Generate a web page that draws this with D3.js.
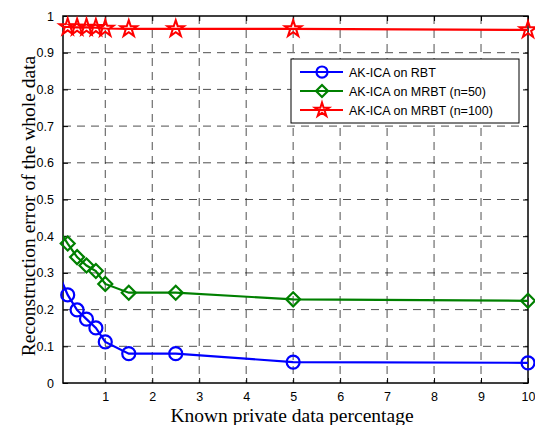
<!DOCTYPE html>
<html>
<head>
<meta charset="utf-8">
<script src="https://d3js.org/d3.v7.min.js"></script>
<style>
  body { margin: 0; background: #fff; }
  svg { display: block; }
</style>
</head>
<body>
<svg id="chart" width="535" height="425"></svg>
<script>
// known private data percentage
const xValues = [0, 0.2, 0.4, 0.6, 0.8, 1, 1.5, 2.5, 5, 10];
const rbt = [0.30, 0.24, 0.199, 0.174, 0.15, 0.112, 0.08, 0.08, 0.057, 0.055];
const mrbt50 = [0.42, 0.38, 0.343, 0.32, 0.305, 0.27, 0.246, 0.246, 0.228, 0.224];
const mrbt100 = [0.97, 0.97, 0.969, 0.969, 0.968, 0.966, 0.965, 0.965, 0.965, 0.962];
const xTicks = [1, 2, 3, 4, 5, 6, 7, 8, 9, 10];
const yTicks = [0, 0.1, 0.2, 0.3, 0.4, 0.5, 0.6, 0.7, 0.8, 0.9, 1];

const series = [
    {name: "AK-ICA on RBT", values: rbt, color: "#0000ff", marker: "circle"},
    {name: "AK-ICA on MRBT (n=50)", values: mrbt50, color: "#008000", marker: "diamond"},
    {name: "AK-ICA on MRBT (n=100)", values: mrbt100, color: "#ff0000", marker: "star"}
];

const margin = {top: 16, right: 7, bottom: 42, left: 63};
const width = 535 - margin.left - margin.right;
const height = 425 - margin.top - margin.bottom;

const svg = d3.select("#chart");
const g = svg.append("g")
    .attr("transform", "translate(" + margin.left + "," + margin.top + ")");

const xScale = d3.scaleLinear().domain([0.1, 10]).range([0, width]);
const yScale = d3.scaleLinear().domain([0, 1]).range([height, 0]);

// grid
g.selectAll(".gx")
    .data(xTicks.filter(d => d < 10))
    .enter()
    .append("line")
        .attr("x1", d => xScale(d)).attr("x2", d => xScale(d))
        .attr("y1", 0).attr("y2", height)
        .attr("stroke", "#222").attr("stroke-width", 0.8)
        .attr("stroke-dasharray", "8,6");

g.selectAll(".gy")
    .data(yTicks.filter(d => d > 0 && d < 1))
    .enter()
    .append("line")
        .attr("x1", 0).attr("x2", width)
        .attr("y1", d => yScale(d)).attr("y2", d => yScale(d))
        .attr("stroke", "#222").attr("stroke-width", 0.8)
        .attr("stroke-dasharray", "8,6");

// axes, ticks pointing inward, mirrored on top and right
const fontAxis = "Arial, 'Liberation Sans', sans-serif";
const fmt = d3.format("~g");

g.append("g")
    .attr("transform", "translate(0," + height + ")")
    .call(d3.axisBottom(xScale).tickValues(xTicks).tickSizeInner(-5).tickSizeOuter(0).tickPadding(9).tickFormat(fmt))
    .call(a => a.select(".domain").remove())
    .selectAll("text").style("font-family", fontAxis).style("font-size", "12.5px").attr("fill", "#000");

g.append("g")
    .call(d3.axisTop(xScale).tickValues(xTicks).tickSizeInner(-5).tickSizeOuter(0).tickFormat(""))
    .call(a => a.select(".domain").remove());

g.append("g")
    .call(d3.axisLeft(yScale).tickValues(yTicks).tickSizeInner(-5).tickSizeOuter(0).tickPadding(9).tickFormat(fmt))
    .call(a => a.select(".domain").remove())
    .selectAll("text").style("font-family", fontAxis).style("font-size", "12.5px").attr("fill", "#000");

g.append("g")
    .attr("transform", "translate(" + width + ",0)")
    .call(d3.axisRight(yScale).tickValues(yTicks).tickSizeInner(-5).tickSizeOuter(0).tickFormat(""))
    .call(a => a.select(".domain").remove());

g.append("rect")
    .attr("width", width).attr("height", height)
    .attr("fill", "none").attr("stroke", "#000").attr("stroke-width", 1.5);

// clip
svg.append("defs").append("clipPath").attr("id", "clip")
    .append("rect").attr("width", width).attr("height", height);

const line = d3.line()
    .x((d, i) => xScale(xValues[i]))
    .y(d => yScale(d));

function drawMarker(sel, s, k) {
    if (s.marker === "circle") {
        sel.append("circle").attr("r", 6.5 * k)
            .attr("fill", "none").attr("stroke", s.color).attr("stroke-width", 2.2);
    } else if (s.marker === "diamond") {
        const r = 7 * k;
        sel.append("path").attr("d", "M0," + (-r) + "L" + r + ",0L0," + r + "L" + (-r) + ",0Z")
            .attr("fill", "none").attr("stroke", s.color).attr("stroke-width", 2.2);
    } else {
        sel.append("path").attr("d", d3.symbol().type(d3.symbolStar).size(85 * k * k)())
            .attr("fill", "none").attr("stroke", s.color).attr("stroke-width", 2);
    }
}

series.forEach(s => {
    g.append("path")
        .datum(s.values)
        .attr("clip-path", "url(#clip)")
        .attr("d", line)
        .attr("fill", "none")
        .attr("stroke", s.color)
        .attr("stroke-width", 2.2);

    s.values.forEach((v, i) => {
        if (xValues[i] < 0.1) return;
        const m = g.append("g")
            .attr("transform", "translate(" + xScale(xValues[i]) + "," + yScale(v) + ")");
        drawMarker(m, s, 1);
    });
});

// legend
const legend = svg.append("g").attr("transform", "translate(291,59)");
legend.append("rect")
    .attr("width", 228).attr("height", 64)
    .attr("fill", "#fff").attr("stroke", "#000").attr("stroke-width", 1);

series.forEach((s, i) => {
    const row = legend.append("g").attr("transform", "translate(0," + (13 + i * 19) + ")");
    row.append("line")
        .attr("x1", 9).attr("x2", 52)
        .attr("stroke", s.color).attr("stroke-width", 2.2);
    const m = row.append("g").attr("transform", "translate(31,0)");
    drawMarker(m, s, 0.85);
    row.append("text")
        .attr("x", 58).attr("y", 4.5)
        .style("font-family", fontAxis).style("font-size", "12.5px")
        .text(s.name);
});

// axis titles
const fontTitle = "'Times New Roman', 'Liberation Serif', serif";

svg.append("text")
    .attr("x", 292)
    .attr("y", 422)
    .attr("text-anchor", "middle")
    .style("font-family", fontTitle)
    .style("font-size", "19.5px")
    .text("Known private data percentage");

svg.append("text")
    .attr("transform", "translate(35,206) rotate(-90)")
    .attr("text-anchor", "middle")
    .style("font-family", fontTitle)
    .style("font-size", "19.5px")
    .text("Reconstruction error of the whole data");
</script>
</body>
</html>
